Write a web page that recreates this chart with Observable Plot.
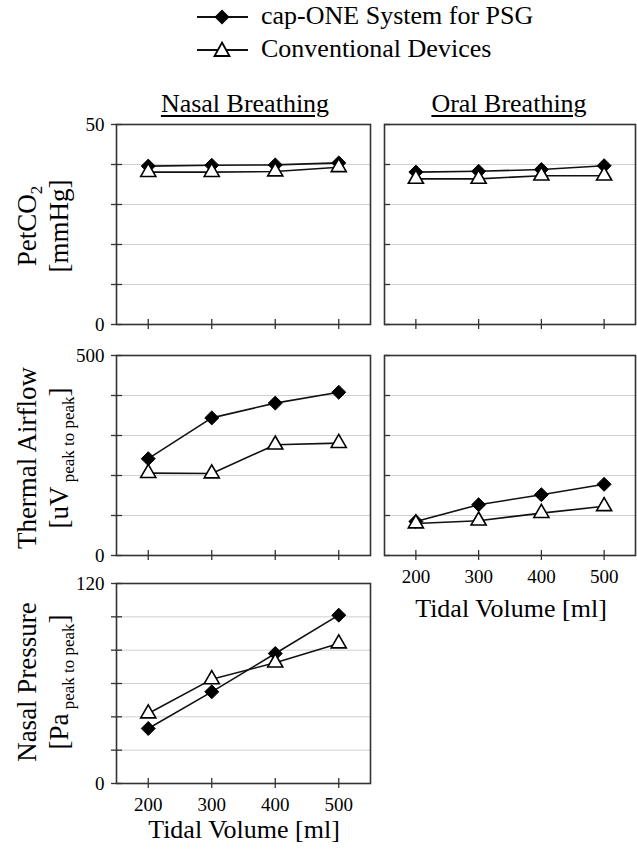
<!DOCTYPE html>
<html><head><meta charset="utf-8">
<script src="https://cdn.jsdelivr.net/npm/d3@7"></script>
<script src="https://cdn.jsdelivr.net/npm/@observablehq/plot@0.6"></script>
<style>
html,body{margin:0;padding:0;background:#fff;}
#chart{position:relative;width:637px;height:853px;overflow:hidden;font-family:'Liberation Serif','Times New Roman',serif;color:#000;}
.abs{position:absolute;white-space:nowrap;font-family:'Liberation Serif','Times New Roman',serif;}
.ptitle{font-size:26px;line-height:26px;text-decoration:underline;text-decoration-thickness:1.5px;text-underline-offset:3px;transform:translateX(-50%);}
.ytitle{font-size:27px;line-height:32px;text-align:center;transform:translate(-50%,-50%) rotate(-90deg);}
.ytitle sub{font-size:17px;vertical-align:-6px;line-height:0;}
.xtitle{font-size:26px;line-height:26px;transform:translateX(-50%);}
.leg{font-size:26px;line-height:26px;}
svg text{font-family:'Liberation Serif','Times New Roman',serif;}
</style></head><body><div id="chart"></div>
<script>
// ---- data ----
const volumes = [200, 300, 400, 500];
const seriesNames = ["cap-ONE System for PSG", "Conventional Devices"];
const panelTitles = ["Nasal Breathing", "Oral Breathing"];
const xTitle = "Tidal Volume [ml]";

const nasalPetCO2Cap  = [39.6, 39.8, 39.9, 40.4];
const nasalPetCO2Conv = [38.1, 38.1, 38.25, 39.3];
const oralPetCO2Cap   = [38.1, 38.3, 38.75, 39.7];
const oralPetCO2Conv  = [36.4, 36.4, 37.2, 37.2];

const nasalThermalCap  = [242, 344, 381, 408];
const nasalThermalConv = [206, 205, 277, 281];
const oralThermalCap   = [85, 127, 152, 178];
const oralThermalConv  = [80, 87, 106, 123];

const nasalPressureCap  = [33, 55, 78, 101];
const nasalPressureConv = [42, 62.5, 72.5, 84];

const yMaxPetCO2 = 50, yStepPetCO2 = 10;
const yMaxThermal = 500, yStepThermal = 100;
const yMaxPressure = 120, yStepPressure = 20;

// ---- drawing ----
const chart = document.getElementById("chart");
const FONT = "'Liberation Serif','Times New Roman',serif";

function addHTML(cls, html, left, top) {
  const d = document.createElement("div");
  d.className = "abs " + cls;
  d.innerHTML = html;
  d.style.left = left + "px";
  d.style.top = top + "px";
  chart.appendChild(d);
  return d;
}

function panel({cap, conv, yMax, yStep, fx, fy, fw, fh, xLabels, yLabels, crossY}) {
  const mL = 50, mR = 2, mT = 10, mB = xLabels ? 40 : 10;
  const rows = s => volumes.map((v, i) => ({v, y: s[i]}));
  const grid = d3.range(0, yMax + yStep / 2, yStep);
  const marks = [
    Plot.gridY(grid.slice(1, -1), {stroke: "#cfcfcf", strokeOpacity: 1, strokeWidth: 1}),
    Plot.tickY(grid, {y: d => d, stroke: "#333", strokeWidth: 1.3, insetLeft: crossY ? -5 : 0, insetRight: fw - 6}),
    Plot.tickX(volumes, {x: d => d, stroke: "#333", strokeWidth: 1.3, insetTop: fh - 5, insetBottom: -5}),
    Plot.frame({stroke: "#333", strokeWidth: 1.6}),
    Plot.line(rows(cap), {x: "v", y: "y", stroke: "#111", strokeWidth: 1.6}),
    Plot.dot(rows(cap), {x: "v", y: "y", symbol: "diamond2", r: 6.3, fill: "#000", stroke: "#000", strokeWidth: 1}),
    Plot.line(rows(conv), {x: "v", y: "y", stroke: "#111", strokeWidth: 1.6}),
    Plot.dot(rows(conv), {x: "v", y: "y", symbol: "triangle", r: 5.6, fill: "#fff", stroke: "#000", strokeWidth: 1.6})
  ];
  if (yLabels) marks.push(Plot.axisY([0, yMax], {anchor: "left", label: null, tickSize: 0, tickPadding: 12, fontSize: 19, fill: "#000"}));
  if (xLabels) marks.push(Plot.axisX(volumes, {anchor: "bottom", label: null, tickSize: 0, tickPadding: 14, fontSize: 19, fill: "#000"}));
  const svg = Plot.plot({
    width: mL + fw + mR, height: mT + fh + mB,
    marginLeft: mL, marginRight: mR, marginTop: mT, marginBottom: mB,
    x: {domain: [150, 550], axis: null},
    y: {domain: [0, yMax], axis: null},
    style: `font-family: ${FONT}; background: transparent; color: #000; overflow: visible;`,
    marks
  });
  svg.style.position = "absolute";
  svg.style.left = (fx - mL) + "px";
  svg.style.top = (fy - mT) + "px";
  chart.appendChild(svg);
}

panel({cap: nasalPetCO2Cap, conv: nasalPetCO2Conv, yMax: yMaxPetCO2, yStep: yStepPetCO2, fx: 116, fy: 124, fw: 254, fh: 200, yLabels: true, crossY: true});
panel({cap: oralPetCO2Cap, conv: oralPetCO2Conv, yMax: yMaxPetCO2, yStep: yStepPetCO2, fx: 384, fy: 124, fw: 251, fh: 200});
panel({cap: nasalThermalCap, conv: nasalThermalConv, yMax: yMaxThermal, yStep: yStepThermal, fx: 116, fy: 355, fw: 254, fh: 200, yLabels: true, crossY: true});
panel({cap: oralThermalCap, conv: oralThermalConv, yMax: yMaxThermal, yStep: yStepThermal, fx: 384, fy: 355, fw: 251, fh: 200, xLabels: true});
panel({cap: nasalPressureCap, conv: nasalPressureConv, yMax: yMaxPressure, yStep: yStepPressure, fx: 116, fy: 583, fw: 254, fh: 200, yLabels: true, crossY: true, xLabels: true});

// panel titles
addHTML("ptitle", panelTitles[0], 245, 91);
addHTML("ptitle", panelTitles[1], 509, 91);

// y titles
addHTML("ytitle", "PetCO<sub>2</sub><br>[mmHg]", 43, 226);
addHTML("ytitle", "Thermal Airflow<br>[uV<sub>&nbsp;peak to peak</sub>]", 43, 458);
addHTML("ytitle", "Nasal Pressure<br>[Pa<sub>&nbsp;peak to peak</sub>]", 43, 682);

// x titles
addHTML("xtitle", xTitle, 511, 596);
addHTML("xtitle", xTitle, 244, 817);

// legend
function legendRow(i, cy) {
  const ns = "http://www.w3.org/2000/svg";
  const s = document.createElementNS(ns, "svg");
  s.setAttribute("width", 56); s.setAttribute("height", 24);
  s.style.position = "absolute"; s.style.left = "195px"; s.style.top = (cy - 12) + "px";
  const l = document.createElementNS(ns, "line");
  l.setAttribute("x1", 2); l.setAttribute("x2", 53); l.setAttribute("y1", 12); l.setAttribute("y2", 12);
  l.setAttribute("stroke", "#111"); l.setAttribute("stroke-width", 1.8);
  s.appendChild(l);
  const p = document.createElementNS(ns, "path");
  if (i === 0) {
    p.setAttribute("d", "M27,4.5L34.5,12L27,19.5L19.5,12Z");
    p.setAttribute("fill", "#000");
  } else {
    p.setAttribute("d", "M27,4.5L34.5,18L19.5,18Z");
    p.setAttribute("fill", "#fff"); p.setAttribute("stroke", "#000"); p.setAttribute("stroke-width", 1.8);
  }
  s.appendChild(p);
  chart.appendChild(s);
  addHTML("leg", seriesNames[i], 261, cy - 14);
}
legendRow(0, 17);
legendRow(1, 50);
</script></body></html>
